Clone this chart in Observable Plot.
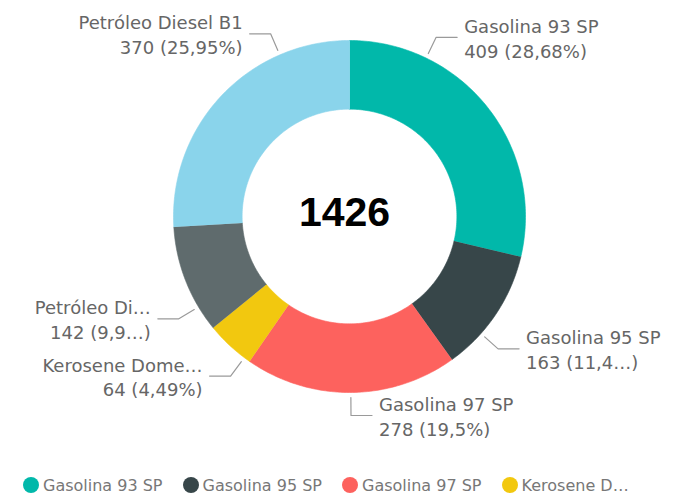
<!DOCTYPE html>
<html>
<head>
<meta charset="utf-8">
<script src="https://cdn.jsdelivr.net/npm/d3@7"></script>
<script src="https://cdn.jsdelivr.net/npm/@observablehq/plot@0.6"></script>
<style>
  body { margin: 0; background: #fff; }
  #chart { width: 675px; height: 496px; overflow: hidden; }
  #legend { display: flex; gap: 20px; padding-left: 23px; margin-top: 4px; height: 30px; align-items: center;
            font-family: "DejaVu Sans", sans-serif; font-size: 16px; color: #777; white-space: nowrap; }
  .item { display: flex; align-items: center; gap: 4px; }
  .sw { width: 16px; height: 16px; border-radius: 50%; flex: none; }
</style>
</head>
<body>
<div id="chart"></div>
<script>
// ---- data ----
const categories = ["Gasolina 93 SP", "Gasolina 95 SP", "Gasolina 97 SP", "Kerosene Dome…", "Petróleo Di…", "Petróleo Diesel B1"];
const values = [409, 163, 278, 64, 142, 370];
const valueLabels = ["409 (28,68%)", "163 (11,4…)", "278 (19,5%)", "64 (4,49%)", "142 (9,9…)", "370 (25,95%)"];
const legendLabels = ["Gasolina 93 SP", "Gasolina 95 SP", "Gasolina 97 SP", "Kerosene D…"];
const colors = ["#01B8AA", "#374649", "#FD625E", "#F2C80F", "#5F6B6D", "#8AD4EB"];

// ---- layout ----
const W = 675, H = 466;
const cx = 349, cy = 216, R = 176, innerRatio = 0.61;
const total = d3.sum(values);

// slice polygons (angles clockwise from 12 o'clock)
const slicePts = [];
const labelData = [];
let cum = 0;
categories.forEach((name, i) => {
  const a0 = cum / total * 2 * Math.PI;
  cum += values[i];
  const a1 = cum / total * 2 * Math.PI;
  const n = Math.max(2, Math.ceil((a1 - a0) / (Math.PI / 180)));
  for (let k = 0; k <= n; k++) {
    const a = a0 + (a1 - a0) * k / n;
    slicePts.push({name, x: Math.sin(a), y: Math.cos(a)});
  }
  for (let k = n; k >= 0; k--) {
    const a = a0 + (a1 - a0) * k / n;
    slicePts.push({name, x: innerRatio * Math.sin(a), y: innerRatio * Math.cos(a)});
  }
  // leader anchor: mid angle pulled towards the nearest vertical
  let m = (a0 + a1) / 2 * 180 / Math.PI;
  let p;
  if (m < 90) p = m * 0.5;
  else if (m > 270) p = 360 - (360 - m) * 0.5;
  else p = 180 + (m - 180) * 0.86;
  const pa = p * Math.PI / 180;
  const side = Math.sin(pa) >= 0 ? "right" : "left";
  const rS = 1 + 5 / R, rE = 1 + 23 / R, h = 21 / R;
  const sx = rS * Math.sin(pa), sy = rS * Math.cos(pa);
  const ex = rE * Math.sin(pa), ey = rE * Math.cos(pa);
  const hx = ex + (side === "right" ? h : -h);
  labelData.push({name, value: valueLabels[i], side, pts: [[sx, sy], [ex, ey], [hx, ey]], tx: hx, ty: ey});
});

const leaderPts = labelData.flatMap(d => d.pts.map(([x, y]) => ({name: d.name, x, y})));

const textOpts = {
  x: "tx", y: "ty",
  text: d => d.name + "\n" + d.value,
  lineHeight: 1.38, fontSize: 18, fontFamily: "DejaVu Sans", fill: "#666"
};

const plot = Plot.plot({
  width: W, height: H,
  x: {domain: [-1, 1], range: [cx - R, cx + R], axis: null},
  y: {domain: [-1, 1], range: [cy + R, cy - R], axis: null},
  color: {domain: categories, range: colors},
  marks: [
    Plot.line(slicePts, {x: "x", y: "y", z: "name", fill: "name", stroke: "name", strokeWidth: 0.6, curve: "linear"}),
    Plot.line(leaderPts, {x: "x", y: "y", z: "name", stroke: "#9a9a9a", strokeWidth: 1.2}),
    Plot.text(labelData.filter(d => d.side === "right"), {...textOpts, textAnchor: "start", dx: 7}),
    Plot.text(labelData.filter(d => d.side === "left"), {...textOpts, textAnchor: "end", dx: -7}),
    Plot.text([total], {x: 0, y: 0, text: d => String(d), dx: -5, dy: -4, fontSize: 41, fontWeight: "bold",
                        fontFamily: "Liberation Sans, Arial, sans-serif", fill: "#000"})
  ]
});

const chart = document.getElementById("chart");
chart.appendChild(plot);

const legend = document.createElement("div");
legend.id = "legend";
legendLabels.forEach((lab, i) => {
  const item = document.createElement("div");
  item.className = "item";
  const sw = document.createElement("span");
  sw.className = "sw";
  sw.style.background = colors[i];
  const t = document.createElement("span");
  t.textContent = lab;
  item.appendChild(sw);
  item.appendChild(t);
  legend.appendChild(item);
});
chart.appendChild(legend);
</script>
</body>
</html>
